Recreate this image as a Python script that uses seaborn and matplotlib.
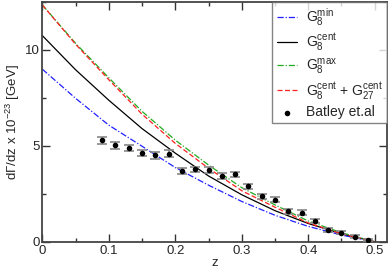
import numpy as np
import pandas as pd
import matplotlib
matplotlib.use("Agg")
import matplotlib.pyplot as plt
import seaborn as sns

# ---- data ----
z_grid = [0.0, 0.05, 0.10, 0.15, 0.20, 0.25, 0.30, 0.35, 0.40, 0.45, 0.50]
g8_min = [9.00, 7.48, 6.08, 4.98, 3.87, 2.95, 2.10, 1.38, 0.80, 0.35, 0.0]
g8_cent = [10.75, 8.97, 7.38, 5.90, 4.62, 3.43, 2.45, 1.62, 0.95, 0.42, 0.0]
g8_max = [12.35, 10.35, 8.55, 6.80, 5.30, 4.00, 2.82, 1.92, 1.08, 0.47, 0.0]
g8_g27 = [12.35, 10.30, 8.45, 6.65, 5.13, 3.83, 2.66, 1.80, 0.98, 0.42, 0.0]

z_data = [0.09, 0.11, 0.13, 0.15, 0.17, 0.19, 0.21, 0.23, 0.25, 0.27, 0.29,
          0.31, 0.33, 0.35, 0.37, 0.39, 0.41, 0.43, 0.45, 0.47, 0.49]
y_data = [5.28, 5.02, 4.90, 4.62, 4.50, 4.59, 3.69, 3.77, 3.76, 3.41, 3.51,
          2.89, 2.37, 2.20, 1.59, 1.51, 1.09, 0.61, 0.47, 0.26, 0.09]
y_err = [0.17, 0.17, 0.17, 0.17, 0.17, 0.17, 0.15, 0.15, 0.15, 0.15, 0.15,
         0.14, 0.14, 0.13, 0.13, 0.12, 0.12, 0.10, 0.09, 0.08, 0.06]

x_ticks = [0, 0.1, 0.2, 0.3, 0.4, 0.5]
y_ticks = [0, 5, 10]

sns.set_style("ticks")
plt.rcParams["font.family"] = ["Liberation Sans", "DejaVu Sans"]
plt.rcParams["mathtext.default"] = "regular"
plt.rcParams["mathtext.fontset"] = "custom"
plt.rcParams["mathtext.rm"] = "Liberation Sans"

fig = plt.figure(figsize=(3.88, 2.68), dpi=100)
ax = fig.add_axes([0.109, 0.098, 0.8876, 0.8945])

curves = pd.DataFrame({"z": z_grid, "min": g8_min, "cent": g8_cent,
                       "max": g8_max, "c27": g8_g27})

sns.lineplot(data=curves, x="z", y="min", ax=ax, color="#2020ff", lw=0.9,
             label=r"G$_8^{min}$")
ax.lines[-1].set_dashes([5, 1.5, 1, 1.5])
sns.lineplot(data=curves, x="z", y="cent", ax=ax, color="black", lw=0.9,
             label=r"G$_8^{cent}$")
sns.lineplot(data=curves, x="z", y="max", ax=ax, color="#22aa22", lw=0.9,
             label=r"G$_8^{max}$")
ax.lines[-1].set_dashes([5, 1.5, 1, 1.5])
sns.lineplot(data=curves, x="z", y="c27", ax=ax, color="#ff2020", lw=0.9,
             label=r"G$_8^{cent}$ + G$_{27}^{cent}$")
ax.lines[-1].set_dashes([4, 2])

ax.errorbar(z_data, y_data, yerr=y_err, fmt="none", ecolor="#888888",
            elinewidth=1.2, capsize=3.5, capthick=1.2, zorder=4)
sns.scatterplot(x=z_data, y=y_data, ax=ax, color="black", s=16,
                edgecolor="black", linewidth=0, zorder=5, label="Batley et.al")

ax.set_xlim(0, 0.518)
ax.set_ylim(0, 12.45)
ax.set_xticks(x_ticks)
ax.set_xticklabels(["0", "0.1", "0.2", "0.3", "0.4", "0.5"])
ax.set_yticks(y_ticks)
ax.set_xticks([0.05, 0.15, 0.25, 0.35, 0.45], minor=True)
ax.set_yticks([2.5, 7.5, 12.5], minor=True)
ax.tick_params(which="major", direction="in", length=6, width=1,
               top=True, right=True, labelsize=9.5, pad=2, color="#333333")
ax.tick_params(which="minor", direction="in", length=3, width=1,
               top=True, right=True, color="#333333")
for s in ax.spines.values():
    s.set_linewidth(1.3)
    s.set_color("#444444")

ax.set_xlabel("z", fontsize=9.5, labelpad=0)
ax.set_ylabel(r"d$\Gamma$/dz x 10$^{-23}$ [GeV]", fontsize=9.5, labelpad=2)

leg = ax.legend(loc="upper right", borderaxespad=0, fontsize=10,
                frameon=True, fancybox=False, handlelength=1.5,
                handletextpad=0.6, labelspacing=0.25, borderpad=0.3)
leg.get_frame().set_edgecolor("#666666")
leg.get_frame().set_linewidth(1.0)

fig.savefig("out.png", dpi=100)
